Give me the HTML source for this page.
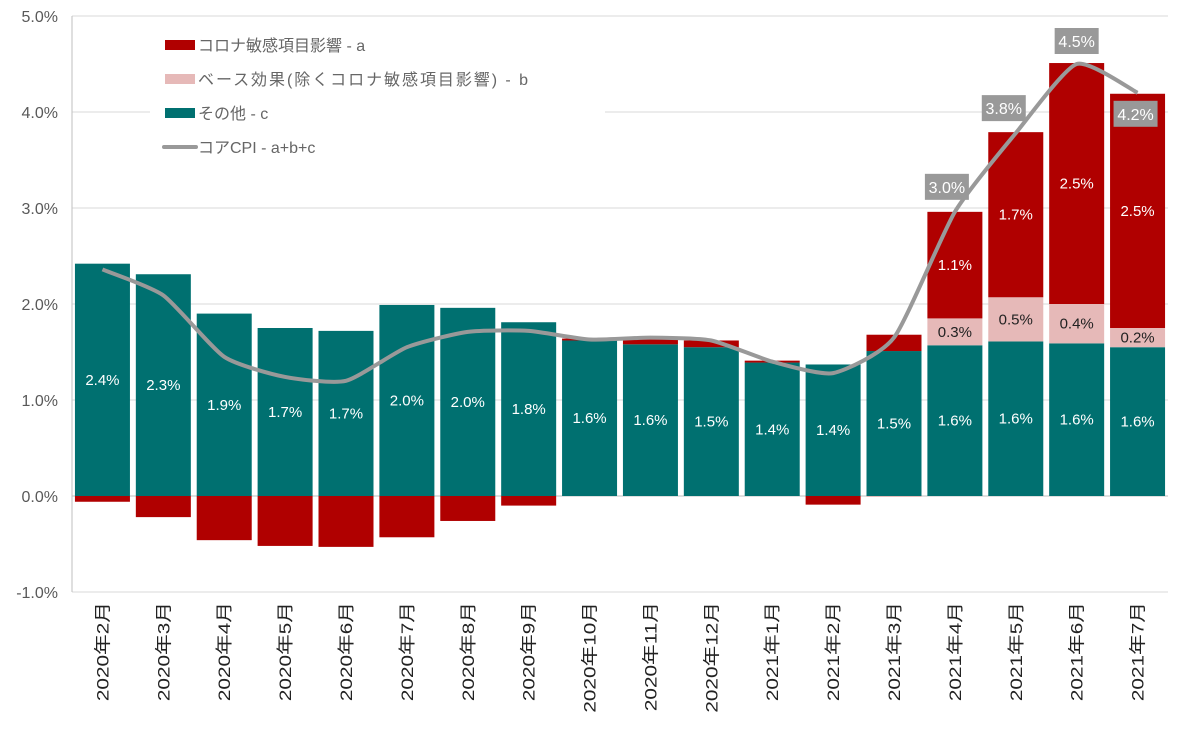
<!DOCTYPE html>
<html><head><meta charset="utf-8"><style>
html,body{margin:0;padding:0;background:#fff;}
svg text{font-family:"Liberation Sans","Noto Sans CJK JP",sans-serif;}
</style></head><body>
<svg id="chart" width="1200" height="732" xmlns="http://www.w3.org/2000/svg">
<g id="grid"></g>
<g id="yaxis"></g>
<g id="bars"></g>
<g id="legendbg">
<rect x="150" y="24" width="455" height="140" fill="#fff"/>
<rect x="165" y="40" width="30" height="10" fill="#b00000"/>
<text x="198" y="51" font-size="16" fill="#666">コロナ敏感項目影響 - a</text>
<rect x="165" y="74" width="30" height="10" fill="#e6b9b8"/>
<text x="198" y="85" font-size="16" fill="#666" textLength="330" lengthAdjust="spacing">ベース効果(除くコロナ敏感項目影響) - b</text>
<rect x="165" y="108" width="30" height="10" fill="#007070"/>
<text x="198" y="119" font-size="16" fill="#666">その他 - c</text>
<line x1="164" y1="147" x2="196" y2="147" stroke="#999" stroke-width="4" stroke-linecap="round"/>
<text x="198" y="153" font-size="16" fill="#666">コアCPI - a+b+c</text>
</g>
<g id="line"></g>
<g id="xaxis"></g>
</svg>
<script>
const categories=["2020年2月","2020年3月","2020年4月","2020年5月","2020年6月","2020年7月","2020年8月","2020年9月","2020年10月","2020年11月","2020年12月","2021年1月","2021年2月","2021年3月","2021年4月","2021年5月","2021年6月","2021年7月"];
const seriesC=[2.42,2.31,1.90,1.75,1.72,1.99,1.96,1.81,1.62,1.58,1.55,1.39,1.37,1.51,1.57,1.61,1.59,1.55];
const seriesB=[0,0,0,0,0,0,0,0,0,0,0,0,0,-0.01,0.28,0.46,0.41,0.20];
const seriesA=[-0.06,-0.22,-0.46,-0.52,-0.53,-0.43,-0.26,-0.10,0.02,0.06,0.07,0.02,-0.09,0.17,1.11,1.72,2.51,2.44];
const coreCPI=[2.36,2.09,1.45,1.24,1.20,1.55,1.71,1.72,1.63,1.65,1.62,1.40,1.28,1.65,2.96,3.78,4.50,4.20];
const labelsC=["2.4%","2.3%","1.9%","1.7%","1.7%","2.0%","2.0%","1.8%","1.6%","1.6%","1.5%","1.4%","1.4%","1.5%","1.6%","1.6%","1.6%","1.6%"];
const labelsB=["","","","","","","","","","","","","","","0.3%","0.5%","0.4%","0.2%"];
const labelsA=["","","","","","","","","","","","","","","1.1%","1.7%","2.5%","2.5%"];
const labelsLine=["","","","","","","","","","","","","","","3.0%","3.8%","4.5%","4.2%"];
const yTicks=[-1,0,1,2,3,4,5];
const yTickLabels=["-1.0%","0.0%","1.0%","2.0%","3.0%","4.0%","5.0%"];

const NS="http://www.w3.org/2000/svg";
const X0=72,X1=1168,Y0=496,PX=96;
const step=(X1-X0)/categories.length;
function xC(i){return X0+step*(i+0.5);}
function y(v){return Y0-v*PX;}
function mk(tag,attrs,parent,txt){const e=document.createElementNS(NS,tag);for(const k in attrs)e.setAttribute(k,attrs[k]);if(txt!==undefined)e.textContent=txt;parent.appendChild(e);return e;}
const G=id=>document.getElementById(id);

yTicks.forEach((t,i)=>{
  const l=mk('line',{x1:X0,x2:X1,y1:y(t),y2:y(t),stroke:t===0?'#bfbfbf':'#d9d9d9','stroke-width':1},G('grid'));
  
  
  const tx=mk('text',{x:58,y:y(t)+6,'font-size':16,fill:'#595959','text-anchor':'end'},G('yaxis'),yTickLabels[i]);
  
  
});
mk('line',{x1:X0,x2:X0,y1:y(5),y2:y(-1),stroke:'#bfbfbf'},G('yaxis'));

const bw=55;
categories.forEach((c,i)=>{
  const cx=xC(i),x=cx-bw/2;
  const rc=mk('rect',{x:x,y:y(seriesC[i]),width:bw,height:seriesC[i]*PX,fill:'#007070'},G('bars'));
  
  
  let top=seriesC[i],bot=0;
  const b=seriesB[i];
  if(b>0){const rb=mk('rect',{x:x,y:y(top+b),width:bw,height:b*PX,fill:'#e6b9b8'},G('bars'));
    
    
    if(labelsB[i]) mk('text',{x:cx,y:y(top+b/2)+5,'font-size':15,fill:'#222','text-anchor':'middle'},G('bars'),labelsB[i]);
    top+=b;}
  else if(b<0){mk('rect',{x:x,y:y(bot),width:bw,height:-b*PX,fill:'#e6b9b8'},G('bars'));bot+=b;}
  const a=seriesA[i];
  if(a>0){const ra=mk('rect',{x:x,y:y(top+a),width:bw,height:a*PX,fill:'#b00000'},G('bars'));
    
    
    if(labelsA[i]) mk('text',{x:cx,y:y(top+a/2)+5,'font-size':15,fill:'#fff','text-anchor':'middle'},G('bars'),labelsA[i]);}
  else if(a<0){const ra=mk('rect',{x:x,y:y(bot),width:bw,height:-a*PX,fill:'#b00000'},G('bars'));
    
    }
  mk('text',{x:cx,y:y(seriesC[i]/2)+5,'font-size':15,fill:'#fff','text-anchor':'middle'},G('bars'),labelsC[i]);
  const xl=mk('text',{x:0,y:0,'font-size':17,fill:'#222','text-anchor':'end',transform:`translate(${cx+6},${602}) rotate(-90) scale(1.22,1)`},G('xaxis'),c);
  
  
});

const pts=coreCPI.map((v,i)=>[xC(i),y(v)]);
let d=`M${pts[0][0]},${pts[0][1]}`;
for(let i=0;i<pts.length-1;i++){
  const p0=pts[Math.max(0,i-1)],p1=pts[i],p2=pts[i+1],p3=pts[Math.min(pts.length-1,i+2)];
  const t=0.1;
  const c1=[p1[0]+(p2[0]-p0[0])*t,p1[1]+(p2[1]-p0[1])*t];
  const c2=[p2[0]-(p3[0]-p1[0])*t,p2[1]-(p3[1]-p1[1])*t];
  d+=` C${c1[0]},${c1[1]} ${c2[0]},${c2[1]} ${p2[0]},${p2[1]}`;
}
const path=mk('path',{d:d,fill:'none',stroke:'#999','stroke-width':4,'stroke-linejoin':'round'},G('line'));


coreCPI.forEach((v,i)=>{
  if(!labelsLine[i])return;
  const cx=xC(i)+(i===14?-8:i===15?-12:i===17?-2:0);
  const cy=y(v)+(i===17?21:i===16?-23:-25);
  const g=mk('g',{},G('line'));
  
  
  mk('rect',{x:cx-22,y:cy-13,width:44,height:26,fill:'#999'},g);
  mk('text',{x:cx,y:cy+6,'font-size':16,fill:'#fff','text-anchor':'middle'},g,labelsLine[i]);
});
</script>
</body></html>
